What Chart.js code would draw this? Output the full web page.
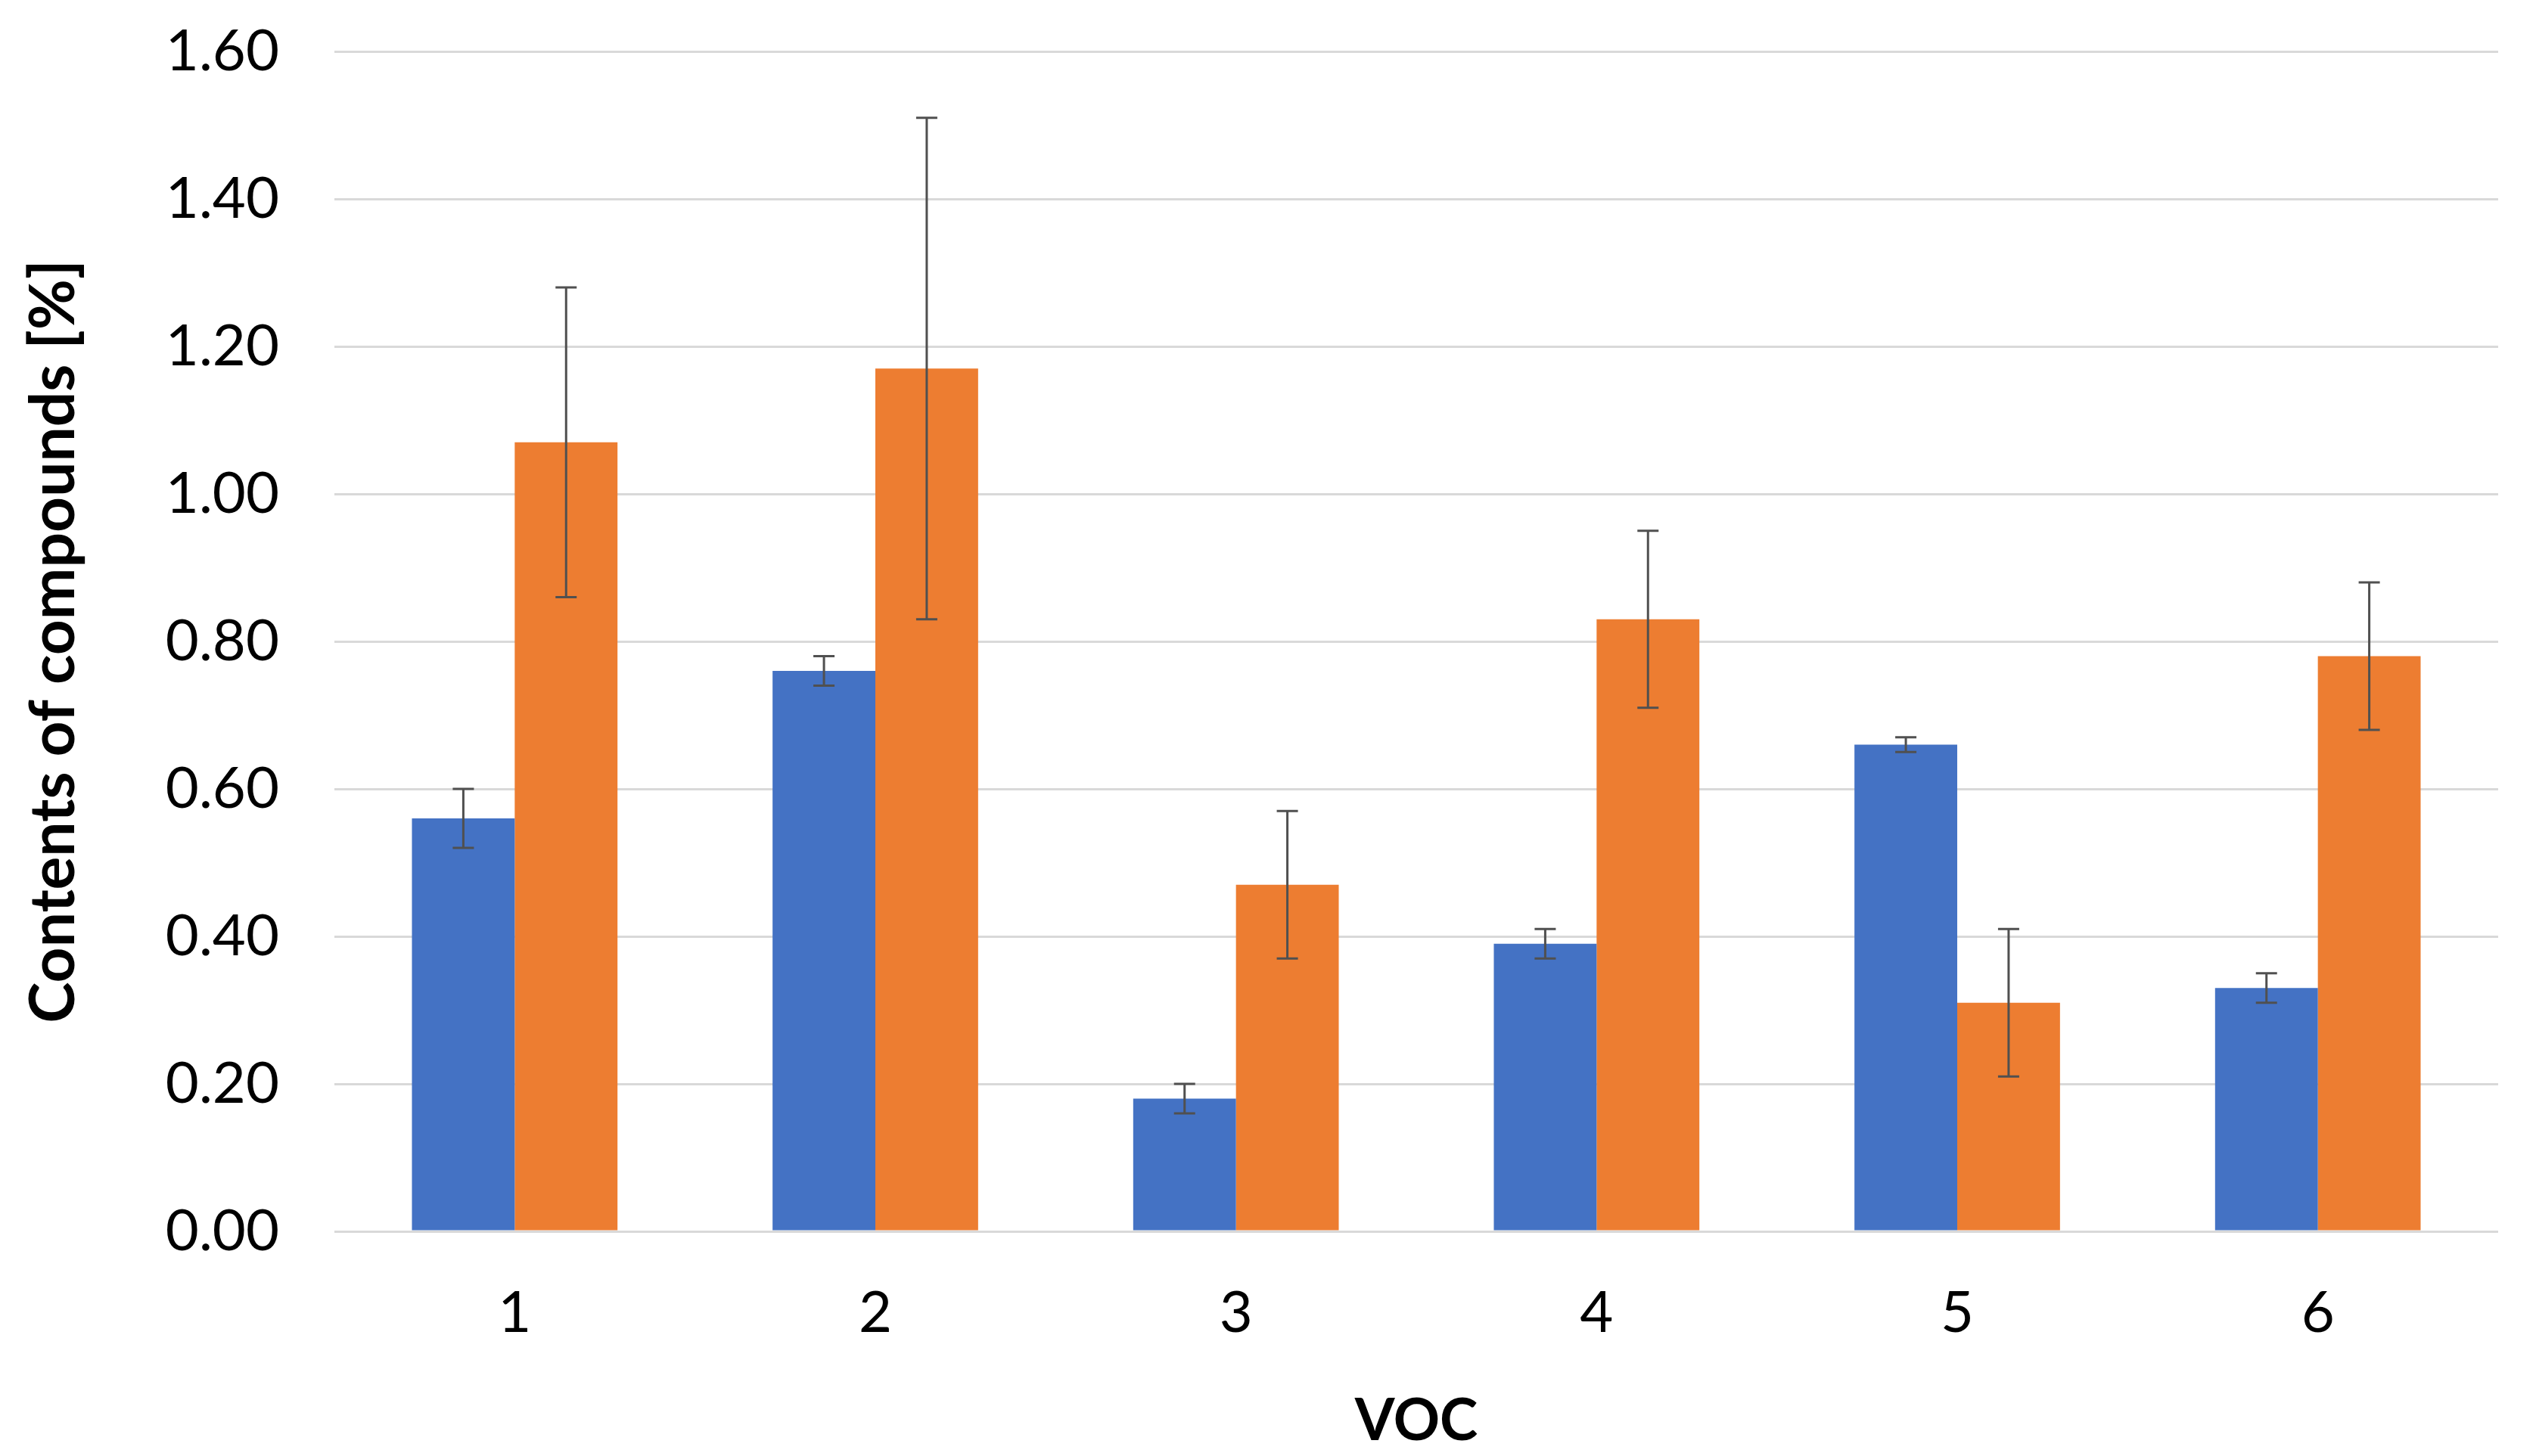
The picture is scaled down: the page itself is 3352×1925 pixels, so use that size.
<!DOCTYPE html>
<html>
<head>
    <title>Contents of compounds</title>
    <script src="https://cdn.jsdelivr.net/npm/chart.js"></script>
    <style>
        html, body { margin: 0; padding: 0; background: #fff; }
        #wrap { width: 3352px; height: 1925px; }
    </style>
</head>
<body>
    <div id="wrap"><canvas id="vocChart"></canvas></div>

    <script>
        // Data
        var categories = ["1", "2", "3", "4", "5", "6"];
        var blueValues = [0.56, 0.76, 0.18, 0.39, 0.66, 0.33];
        var blueErrors = [0.04, 0.02, 0.02, 0.02, 0.01, 0.02];
        var orangeValues = [1.07, 1.17, 0.47, 0.83, 0.31, 0.78];
        var orangeErrors = [0.21, 0.34, 0.10, 0.12, 0.10, 0.10];
        var yTicks = [0, 0.2, 0.4, 0.6, 0.8, 1.0, 1.2, 1.4, 1.6];

        var fontFamily = "Lato, 'Open Sans', sans-serif";

        // Draws the +/- error bars on top of each bar
        var errorBarPlugin = {
            id: 'errorBars',
            afterDatasetsDraw: function (chart) {
                var ctx = chart.ctx;
                var yScale = chart.scales.y;
                ctx.save();
                ctx.strokeStyle = '#505050';
                ctx.lineWidth = 3;
                chart.data.datasets.forEach(function (dataset, i) {
                    var meta = chart.getDatasetMeta(i);
                    meta.data.forEach(function (bar, j) {
                        var v = dataset.data[j];
                        var e = dataset.errors[j];
                        var top = yScale.getPixelForValue(v + e);
                        var bottom = yScale.getPixelForValue(v - e);
                        var x = bar.x;
                        ctx.beginPath();
                        ctx.moveTo(x, top);
                        ctx.lineTo(x, bottom);
                        ctx.moveTo(x - 14, top);
                        ctx.lineTo(x + 14, top);
                        ctx.moveTo(x - 14, bottom);
                        ctx.lineTo(x + 14, bottom);
                        ctx.stroke();
                    });
                });
                ctx.restore();
            }
        };

        var canvas = document.getElementById("vocChart");

        var chart = new Chart(canvas, {
            type: 'bar',
            data: {
                labels: categories,
                datasets: [
                    {
                        label: 'Series 1',
                        data: blueValues,
                        errors: blueErrors,
                        backgroundColor: '#4472C4',
                        categoryPercentage: 0.57,
                        barPercentage: 1.0
                    },
                    {
                        label: 'Series 2',
                        data: orangeValues,
                        errors: orangeErrors,
                        backgroundColor: '#ED7D31',
                        categoryPercentage: 0.57,
                        barPercentage: 1.0
                    }
                ]
            },
            options: {
                responsive: true,
                maintainAspectRatio: false,
                devicePixelRatio: 1,
                animation: false,
                layout: {
                    padding: { top: 68, right: 50, bottom: 0, left: 0 }
                },
                plugins: {
                    legend: { display: false },
                    tooltip: { enabled: false }
                },
                scales: {
                    x: {
                        grid: { display: false },
                        border: { display: false },
                        ticks: {
                            color: '#000',
                            padding: 55,
                            font: { family: fontFamily, size: 76 }
                        },
                        title: {
                            display: true,
                            text: 'VOC',
                            color: '#000',
                            padding: { top: 24, bottom: 0 },
                            font: { family: fontFamily, size: 76, weight: 'bold' }
                        },
                        afterFit: function (scale) { scale.height = 297; }
                    },
                    y: {
                        min: 0,
                        max: 1.6,
                        afterBuildTicks: function (scale) {
                            scale.ticks = yTicks.map(function (v) { return { value: v }; });
                        },
                        grid: {
                            color: '#d9d9d9',
                            lineWidth: 3,
                            drawTicks: false
                        },
                        border: { display: false },
                        ticks: {
                            color: '#000',
                            padding: 73,
                            font: { family: fontFamily, size: 76 },
                            callback: function (value) { return Number(value).toFixed(2); }
                        },
                        title: {
                            display: true,
                            text: 'Contents of compounds [%]',
                            color: '#000',
                            padding: { top: 22, bottom: 0 },
                            font: { family: fontFamily, size: 82, weight: 'bold' }
                        },
                        afterFit: function (scale) {
                            scale.width = 442;
                            // the tick padding should not push the plot area down
                            scale.paddingTop = 0;
                            scale.paddingBottom = 0;
                        }
                    }
                }
            },
            plugins: [errorBarPlugin]
        });
    </script>
</body>
</html>
